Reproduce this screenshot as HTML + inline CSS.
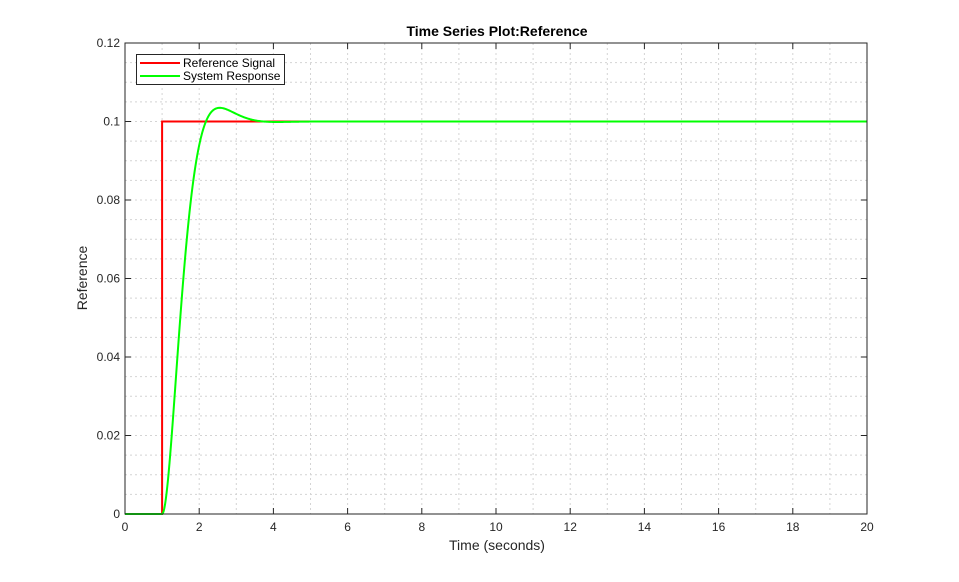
<!DOCTYPE html>
<html><head><style>
body{margin:0;background:#fff;width:959px;height:577px;overflow:hidden;font-family:"Liberation Sans",Arial,sans-serif}
</style></head><body>
<svg id="s" width="959" height="577" xmlns="http://www.w3.org/2000/svg" font-family="Liberation Sans, Arial, sans-serif"></svg>
<script>
const L=125,R=867,T=43,B=514;
const X=t=>L+(R-L)*t/20, Y=v=>B-(B-T)*v/0.12;
let h='<rect x="'+L+'" y="'+T+'" width="'+(R-L)+'" height="'+(B-T)+'" fill="#fff"/>';
for(let t=1;t<20;t++){h+=`<line x1="${X(t)}" y1="${T}" x2="${X(t)}" y2="${B}" stroke="#d4d4d4" stroke-width="1" stroke-dasharray="2,3"/>`;}
for(let i=1;i<24;i++){let v=i*0.005;h+=`<line x1="${L}" y1="${Y(v)}" x2="${R}" y2="${Y(v)}" stroke="#d4d4d4" stroke-width="1" stroke-dasharray="2,3"/>`;}
// ticks
for(let t=0;t<=20;t+=2){let x=X(t);h+=`<line x1="${x}" y1="${B}" x2="${x}" y2="${B-6}" stroke="#262626"/><line x1="${x}" y1="${T}" x2="${x}" y2="${T+6}" stroke="#262626"/><text x="${x}" y="${B+17}" font-size="12" text-anchor="middle" fill="#262626">${t}</text>`;}
const yl=['0','0.02','0.04','0.06','0.08','0.1','0.12'];
for(let i=0;i<=6;i++){let y=Y(i*0.02);h+=`<line x1="${L}" y1="${y}" x2="${L+6}" y2="${y}" stroke="#262626"/><line x1="${R}" y1="${y}" x2="${R-6}" y2="${y}" stroke="#262626"/><text x="${L-5}" y="${y+4}" font-size="12" text-anchor="end" fill="#262626">${yl[i]}</text>`;}
// series
h+=`<polyline fill="none" stroke="#f00" stroke-width="2" points="${X(0)},${Y(0)} ${X(1)},${Y(0)} ${X(1)},${Y(0.1)} ${X(20)},${Y(0.1)}"/>`;
const z=0.73,wn=2.96,wd=wn*Math.sqrt(1-z*z),ph=Math.acos(z);
let p=[];
for(let t=0;t<=20;t+=0.02){let v=0;if(t>1){let s=t-1;v=0.1*(1-Math.exp(-z*wn*s)*Math.sin(wd*s+ph)/Math.sqrt(1-z*z));}p.push(X(t).toFixed(2)+','+Y(v).toFixed(2));}
h+=`<polyline fill="none" stroke="#0f0" stroke-width="2" points="${p.join(' ')}"/>`;
h+=`<rect x="${L}" y="${T}" width="${R-L}" height="${B-T}" fill="none" stroke="#262626" stroke-width="1"/>`;
// legend
h+=`<rect x="136.5" y="54.5" width="148" height="30" fill="#fff" stroke="#262626"/>
<line x1="140" y1="63" x2="180" y2="63" stroke="#f00" stroke-width="2"/>
<line x1="140" y1="76" x2="180" y2="76" stroke="#0f0" stroke-width="2"/>
<text x="183" y="67" font-size="12" fill="#000">Reference Signal</text>
<text x="183" y="80" font-size="12" fill="#000">System Response</text>
<text x="497" y="36" font-size="14" font-weight="bold" text-anchor="middle" fill="#000">Time Series Plot:Reference</text>
<text x="497" y="550" font-size="14" text-anchor="middle" fill="#262626">Time (seconds)</text>
<text transform="translate(87,278) rotate(-90)" font-size="14" text-anchor="middle" fill="#262626">Reference</text>`;
document.getElementById('s').innerHTML=h;
</script>
</body></html>
